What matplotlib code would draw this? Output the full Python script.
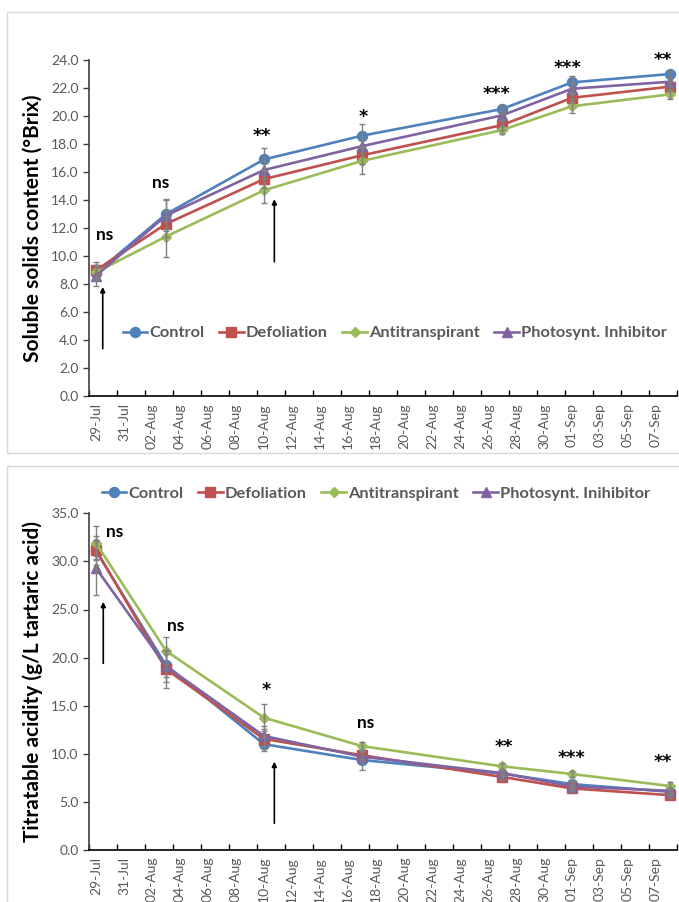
import matplotlib
matplotlib.use("Agg")
import matplotlib.pyplot as plt
from matplotlib.patches import Rectangle
from datetime import datetime, timedelta

plt.rcParams['font.family'] = ['Lato', 'DejaVu Sans']

# ---- data ----
sample_dates = ["29-Jul", "03-Aug", "10-Aug", "17-Aug", "27-Aug", "01-Sep", "08-Sep"]
treatments = ["Control", "Defoliation", "Antitranspirant", "Photosynt. Inhibitor"]
treatments_ta = ["Control", "Defoliation", "Antitranspirant", "Photosynt. Inihibitor"]

brix_control = [8.8, 13.0, 16.9, 18.6, 20.5, 22.4, 23.0]
brix_defol = [9.0, 12.3, 15.5, 17.2, 19.35, 21.3, 22.1]
brix_anti = [8.85, 11.4, 14.7, 16.8, 19.0, 20.7, 21.55]
brix_photo = [8.6, 12.9, 16.15, 17.85, 20.05, 21.95, 22.45]
brix_control_err = [0.5, 1.05, 0.8, 0.8, 0.3, 0.45, 0.25]
brix_defol_err = [0.57, 0.9, 0.6, 0.6, 0.35, 0.4, 0.3]
brix_anti_err = [0.5, 1.45, 0.9, 0.9, 0.3, 0.5, 0.35]
brix_photo_err = [0.75, 1.1, 0.6, 0.5, 0.3, 0.4, 0.3]
brix_signif = ["ns", "ns", "**", "*", "***", "***", "**"]

ta_control = [31.1, 19.2, 11.0, 9.35, 7.95, 6.85, 6.05]
ta_defol = [31.2, 18.8, 11.55, 9.85, 7.6, 6.4, 5.7]
ta_anti = [31.9, 20.7, 13.75, 10.8, 8.7, 7.9, 6.65]
ta_photo = [29.3, 19.1, 11.85, 9.7, 8.0, 6.6, 6.15]
ta_control_err = [1.5, 1.2, 0.75, 1.0, 0.3, 0.3, 0.3]
ta_defol_err = [1.0, 2.0, 1.0, 0.4, 0.3, 0.3, 0.3]
ta_anti_err = [1.8, 1.4, 1.4, 0.45, 0.3, 0.3, 0.4]
ta_photo_err = [2.8, 1.6, 1.0, 0.5, 0.3, 0.3, 0.3]
ta_signif = ["ns", "ns", "*", "ns", "**", "***", "**"]

# ---- helpers ----
def to_date(s):
    return datetime.strptime(s + "-2001", "%d-%b-%Y")

start = to_date(sample_dates[0])
x = [(to_date(d) - start).days for d in sample_dates]
n_days = 42  # axis spans 29-Jul .. 08-Sep

colors = ['#4F81BD', '#C0504D', '#9BBB59', '#8064A2']
markers = ['o', 's', 'D', '^']
msizes = [7.2, 7.0, 5.2, 7.5]
grey_txt = '#595959'

W, H = 679, 902
fig = plt.figure(figsize=(W / 100, H / 100), dpi=100)

# panel frames
fig.patches.append(Rectangle((7 / W, 1 - 452.7 / H), 1.0, (452.7 - 12) / H,
                             transform=fig.transFigure, fill=False,
                             ec='#D9D9D9', lw=1.0))
fig.patches.append(Rectangle((7 / W, -0.1), 1.0, (1 - 466 / H) + 0.1,
                             transform=fig.transFigure, fill=False,
                             ec='#D9D9D9', lw=1.0))

ax1 = fig.add_axes([89 / W, 1 - 396.3 / H, 588 / W, (396.3 - 60) / H])
ax2 = fig.add_axes([89 / W, 1 - 850 / H, 588 / W, (850 - 513.3) / H])


def style_axes(ax, ymax, ystep, ylabel):
    ax.set_xlim(-0.5, n_days - 0.5)
    ax.set_ylim(0, ymax)
    for s in ['top', 'right']:
        ax.spines[s].set_visible(False)
    ax.spines['left'].set_color('#404040')
    ax.spines['left'].set_linewidth(1.2)
    ax.spines['bottom'].set_color('black')
    ax.spines['bottom'].set_linewidth(1.2)
    yt = [i * ystep for i in range(int(round(ymax / ystep)) + 1)]
    ax.set_yticks(yt)
    ax.set_yticklabels([f"{v:.1f}" for v in yt], color=grey_txt, fontsize=10)
    ax.tick_params(axis='y', direction='out', length=4.5, width=1, color='#404040', pad=3)
    # labels centred on days, tick marks on the day boundaries
    lab_days = list(range(0, n_days, 2))
    ax.set_xticks(lab_days)
    ax.set_xticklabels([(start + timedelta(days=d)).strftime("%d-%b") for d in lab_days],
                       rotation=90, color=grey_txt, fontsize=10)
    ax.tick_params(axis='x', which='major', length=0, pad=5)
    ax.set_xticks([d - 0.5 for d in range(0, n_days + 1, 2)], minor=True)
    ax.tick_params(axis='x', which='minor', direction='in', length=4, width=1, color='black')
    ax.set_ylabel(ylabel, fontsize=15, fontweight='bold', color='black')
    ax.yaxis.set_label_coords((43 - 89) / 588, 0.5)


def draw_series(ax, series, errs, labels):
    handles = []
    for vals, err, c, m, ms, lab in zip(series, errs, colors, markers, msizes, labels):
        ln, = ax.plot(x, vals, color=c, lw=1.9, marker=m, ms=ms, mfc=c, mec=c,
                      label=lab, zorder=3, clip_on=False)
        ax.errorbar(x, vals, yerr=err, fmt='none', ecolor='#808080', elinewidth=1.0,
                    capsize=2.5, capthick=1.0, zorder=4, clip_on=False)
        handles.append(ln)
    return handles


def draw_signif(ax, labels, positions):
    for s, (px, py) in zip(labels, positions):
        if s == "ns":
            ax.text(px, py, s, ha='center', va='center', fontsize=12.5,
                    fontweight='bold', color='black', clip_on=False)
        else:
            ax.text(px, py, s, ha='center', va='center', fontsize=12.5,
                    fontweight='bold', color='black', clip_on=False,
                    family='DejaVu Sans')


legend_kw = dict(loc='center', ncol=4, frameon=False, handlelength=1.5,
                 handletextpad=0.12, columnspacing=0.9,
                 prop={'size': 11.8, 'weight': 'bold'}, labelcolor=grey_txt)

# ---- top: soluble solids ----
style_axes(ax1, 24, 2, "Soluble solids content (°Brix)")
h1 = draw_series(ax1, [brix_control, brix_defol, brix_anti, brix_photo],
                 [brix_control_err, brix_defol_err, brix_anti_err, brix_photo_err], treatments)
ax1.legend(handles=h1, bbox_to_anchor=(0.52, 0.1875), **legend_kw)

brix_sig_pos = [(0.64, 11.52), (4.64, 15.24), (11.86, 18.6), (19.07, 19.9),
                (28.64, 21.6), (33.7, 23.4), (40.5, 24.0)]
draw_signif(ax1, brix_signif, brix_sig_pos)

arrow_kw = dict(arrowstyle='-|>', color='black', lw=1.2, mutation_scale=7,
                shrinkA=0, shrinkB=0)
ax1.annotate('', xy=(0.48, 7.8), xytext=(0.48, 3.4), arrowprops=arrow_kw)
ax1.annotate('', xy=(12.74, 14.07), xytext=(12.74, 9.6), arrowprops=arrow_kw)

# ---- bottom: titratable acidity ----
style_axes(ax2, 35, 5, "Titratable acidity (g/L tartaric acid)")
h2 = draw_series(ax2, [ta_control, ta_defol, ta_anti, ta_photo],
                 [ta_control_err, ta_defol_err, ta_anti_err, ta_photo_err], treatments_ta)
ax2.legend(handles=h2, bbox_to_anchor=(0.488, 1.059), **legend_kw)

ta_sig_pos = [(1.31, 33.1), (5.69, 23.3), (12.19, 16.65), (19.29, 13.23),
              (29.14, 10.75), (33.98, 9.6), (40.5, 9.1)]
draw_signif(ax2, ta_signif, ta_sig_pos)

ax2.annotate('', xy=(0.52, 25.8), xytext=(0.52, 19.4), arrowprops=arrow_kw)
ax2.annotate('', xy=(12.74, 9.18), xytext=(12.74, 2.78), arrowprops=arrow_kw)

fig.savefig("out.png", dpi=100)
